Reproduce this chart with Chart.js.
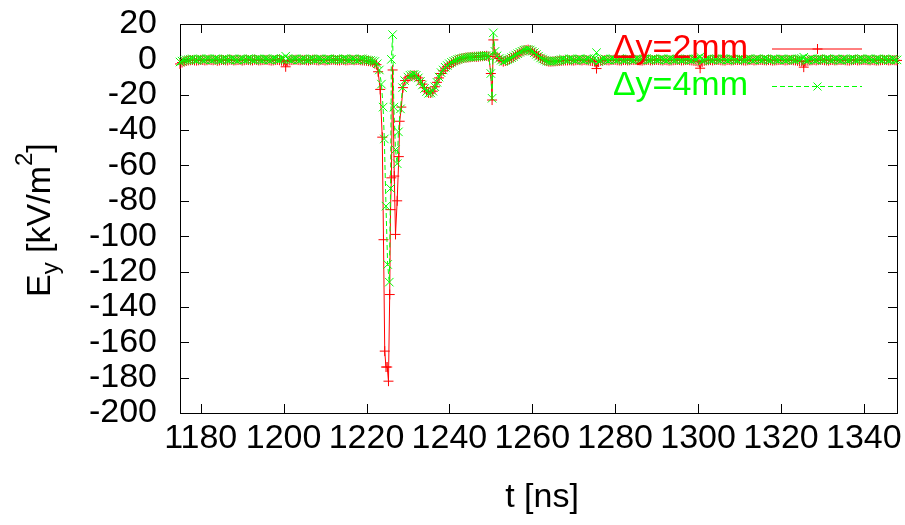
<!DOCTYPE html>
<html>
<head>
<meta charset="UTF-8">
<title>E_y vs t</title>
<script src="https://cdn.jsdelivr.net/npm/chart.js"></script>
<style>
  body { margin: 0; background: #fff; }
  canvas { display: block; }
</style>
</head>
<body>
<canvas id="chart" width="905" height="525"></canvas>
<script>
// --- data (t in ns, Ey in kV/m^2) ---
// flat parts are sampled every 0.5 ns
const preStart = 1175, postStart = 1265.5, sampleStep = 0.5;
const ePreRed = [
  -2.6,-1.8,-1.2,-0.9,-0.6,-0.5,-0.4,-0.6,-0.7,-0.5,
  -0.3,-0.4,-0.6,-0.5,-0.2,-0.4,-0.5,-0.3,-0.8,-0.6,
  -0.3,-0.4,-0.5,-0.6,-0.2,-0.3,-0.6,-0.5,-0.4,-0.3,
  -0.7,-0.5,-0.3,-0.4,-0.5,-0.6,-0.2,-0.4,-0.6,-0.5,
  -0.4,-0.3,-0.3,-0.5,-0.7,-0.6,-0.4,-0.3,-0.5,-0.7,
  -1.0,-4.2,-1.2,-0.6,-0.4,-0.3,-0.2,-0.4,-0.5,-0.3,
  -0.3,-0.5,-0.6,-0.4,-0.2,-0.3,-0.5,-0.6,-0.3,-0.4,
  -0.6,-0.5,-0.4,-0.3,-0.2,-0.4,-0.5,-0.6,-0.3,-0.4,
  -0.6,-0.5,-0.4,-0.3,-0.5,-0.4,-0.3,-0.5,-0.6,-0.7,
  -0.8,-1.0,-1.2,-1.6,-2.4];
const ePreGreen = [
  -1.5,-1.0,-0.6,-0.3,-0.2,0.1,0.3,-0.2,-0.4,0.2,
  0.2,-0.3,-0.3,0.4,0.4,-0.2,-0.2,0.3,0.1,-0.4,
  -0.4,0.2,0.3,-0.2,-0.2,0.4,0.2,-0.3,-0.5,0.1,
  0.3,-0.2,-0.1,0.4,0.2,-0.3,-0.4,0.2,0.3,-0.1,
  -0.2,0.3,0.1,-0.3,-0.3,0.4,0.4,-0.2,-0.2,0.3,
  0.5,1.8,0.3,-0.2,-0.2,0.3,0.4,-0.3,-0.3,0.2,
  0.2,-0.4,-0.4,0.3,0.3,-0.1,-0.1,0.2,0.2,-0.4,
  -0.4,0.3,0.3,-0.2,-0.2,0.1,0.1,-0.3,-0.3,0.4,
  0.4,-0.2,-0.2,0.2,0.2,-0.4,-0.4,0.3,0.3,-0.1,
  -0.3,-0.5,-0.6,-0.9,-1.2];

const tSpikeRed = [1222.4,1222.8,1223.3,1223.8,1224.1,1224.4,1224.7,1225.0,1225.3,1225.6,1225.8,
  1226.0,1226.3,1226.7,1227.0,1227.4,1227.8,1228.0,1228.4,1228.8,1229.3];
const eSpikeRed = [-3,-7,-17,-44,-102,-165,-174,-174,-182,-133,-85,-67,-6,-66,-99,-80,-55,-35,-27,-16,-12];
const tSpikeGreen = [1222.6,1223.1,1223.6,1224.0,1224.3,1224.7,1225.1,1225.5,1225.8,1226.0,1226.3,
  1226.6,1227.0,1227.4,1227.7,1228.2,1228.7,1229.2];
const eSpikeGreen = [-2.5,-6,-14,-27,-45,-83,-116,-126,-73,0,14,-27,-51,-59,-41,-28,-16,-12];

const tMid = [
  1230,1230.5,1231,1231.5,1232,1232.5,1233,1233.5,1234,1234.5,
  1235,1235.5,1236,1236.5,1237,1237.5,1238,1238.5,1239,1239.5,
  1240,1240.5,1241,1241.5,1242,1242.5,1243,1243.5,1244,1244.5,
  1245,1245.5,1246,1246.5,1247,1247.5,1248,1248.5,1249,1249.5,
  1250.0,1250.3,1250.6,
  1251,1251.5,1252,1252.5,1253,1253.5,1254,1254.5,1255,1255.5,
  1256,1256.5,1257,1257.5,1258,1258.5,1259,1259.5,1260,1260.5,
  1261,1261.5,1262,1262.5,1263,1263.5,1264,1264.5,1265];
const eMidRed = [
  -10.5,-9.6,-9.2,-9.0,-9.5,-10.5,-12,-14,-16,-18,
  -19,-19,-18,-15.5,-13,-10.5,-8,-6.5,-5,-4,
  -3,-2.2,-1.5,-0.8,-0.3,0.1,0.5,0.8,1,1.1,
  1.2,1.4,1.5,1.4,1.5,1.7,1.8,1.9,2,1.6,
  -8,-23,11,
  3,1.5,0.5,-0.6,-1.3,-0.9,-0.5,0.2,0.8,1.5,
  2.3,3.0,3.8,4.4,5,5.3,5.5,5.2,4.5,3.7,
  2.8,1.8,0.8,0.1,-0.5,-1.0,-1.3,-1.3,-1.2];
const eMidGreen = [
  -10,-9,-8.7,-8.5,-9,-10.5,-12.5,-14.5,-16.5,-18.2,
  -19.2,-19,-18,-15.5,-13,-10,-7.5,-6,-4.5,-3.5,
  -2.5,-1.7,-1,-0.5,0,0.3,0.6,0.9,1.1,1.2,
  1.3,1.5,1.6,1.6,1.7,1.8,1.9,2.0,2.1,1.8,
  -8,-22,15,
  4.5,2,0.5,-0.5,-1.2,-0.8,-0.3,0.3,1,1.7,
  2.5,3.2,4,4.6,5.2,5.5,5.6,5.3,4.6,3.8,
  2.8,1.8,0.8,0.2,-0.4,-0.9,-1.2,-1.2,-1.1];

const ePostRed = [
  -1.1,-1.0,-0.9,-0.8,-0.7,-0.6,-0.6,-0.5,-0.6,-0.7,
  -0.5,-0.4,-0.5,-0.6,-0.4,-0.5,-0.6,-0.8,-1.0,-1.3,
  -5.2,-1.5,-0.8,-0.6,-0.4,-0.5,-0.6,-0.4,-0.3,-0.3,
  -0.5,-0.6,-0.7,-0.4,-0.4,-0.6,-0.5,-0.3,-0.4,-0.3,
  -0.5,-0.6,-0.7,-0.5,-0.4,-0.3,-0.6,-0.5,-0.4,-0.3,
  -0.4,-0.5,-0.6,-0.4,-0.5,-0.7,-0.6,-0.5,-0.4,-0.3,
  -0.4,-0.6,-0.5,-0.4,-0.3,-0.5,-0.6,-0.8,-1.0,-1.3,
  -5.0,-1.4,-0.8,-0.6,-0.5,-0.4,-0.6,-0.4,-0.3,-0.3,
  -0.5,-0.6,-0.7,-0.4,-0.4,-0.6,-0.5,-0.3,-0.4,-0.3,
  -0.5,-0.6,-0.7,-0.5,-0.4,-0.3,-0.6,-0.5,-0.4,-0.3,
  -0.4,-0.5,-0.6,-0.4,-0.5,-0.7,-0.6,-0.5,-0.4,-0.3,
  -0.4,-0.6,-0.5,-0.4,-0.3,-0.5,-0.6,-0.8,-1.0,-1.2,
  -4.4,-1.3,-0.8,-0.6,-0.5,-0.4,-0.6,-0.4,-0.3,-0.3,
  -0.5,-0.6,-0.7,-0.4,-0.4,-0.6,-0.5,-0.3,-0.4,-0.3,
  -0.5,-0.6,-0.7,-0.5,-0.4,-0.3,-0.6,-0.5,-0.4,-0.3,
  -0.4,-0.5,-0.6,-0.4,-0.5,-0.7,-0.6,-0.5,-0.4,-0.3,
  -0.4,-0.6,-0.5,-0.4,-0.5,-0.6];
const ePostGreen = [
  -1.0,-0.8,-0.5,-0.2,0.2,-0.3,-0.4,0.3,0.2,-0.3,
  -0.4,0.2,0.3,-0.2,-0.5,0.1,0.4,-0.2,-0.5,0.4,
  3.8,-1.2,-0.6,0.2,0.3,-0.3,-0.4,0.2,0.3,-0.2,
  -0.3,0.4,0.2,-0.4,-0.3,0.3,0.2,-0.2,-0.5,0.2,
  0.1,-0.3,-0.2,0.3,0.4,-0.4,-0.3,0.2,0.3,-0.2,
  -0.2,0.4,0.2,-0.3,-0.5,0.2,0.3,-0.2,-0.3,0.3,
  0.1,-0.4,-0.2,0.2,0.3,-0.3,-0.4,0.2,0.2,0.6,
  1.5,-0.8,-0.4,0.2,0.3,-0.3,-0.4,0.2,0.3,-0.2,
  -0.3,0.4,0.2,-0.4,-0.3,0.3,0.2,-0.2,-0.5,0.2,
  0.1,-0.3,-0.2,0.3,0.4,-0.4,-0.3,0.2,0.3,-0.2,
  -0.2,0.4,0.2,-0.3,-0.5,0.2,0.3,-0.2,-0.3,0.3,
  0.1,-0.4,-0.2,0.2,0.3,-0.3,-0.4,0.2,0.2,0.5,
  1.2,-0.7,-0.4,0.2,0.3,-0.3,-0.4,0.2,0.3,-0.2,
  -0.3,0.4,0.2,-0.4,-0.3,0.3,0.2,-0.2,-0.5,0.2,
  0.1,-0.3,-0.2,0.3,0.4,-0.4,-0.3,0.2,0.3,-0.2,
  -0.2,0.4,0.2,-0.3,-0.5,0.2,0.3,-0.2,-0.3,0.3,
  0.1,-0.4,-0.2,0.2,-0.3,-0.3];

const xTicks = [1180,1200,1220,1240,1260,1280,1300,1320,1340];
const yTicks = [20,0,-20,-40,-60,-80,-100,-120,-140,-160,-180,-200];
const seriesNames = ['\u0394y=2mm', '\u0394y=4mm'];

const sampleTimes = (start, n) => Array.from({ length: n }, (_, i) => start + i * sampleStep);
const tPre = sampleTimes(preStart, ePreRed.length);
const tPost = sampleTimes(postStart, ePostRed.length);

function toPoints(ts, es) {
  return ts.map((t, i) => ({ x: t, y: es[i] }));
}
const redPts = toPoints([].concat(tPre, tSpikeRed, tMid, tPost), [].concat(ePreRed, eSpikeRed, eMidRed, ePostRed));
const greenPts = toPoints([].concat(tPre, tSpikeGreen, tMid, tPost), [].concat(ePreGreen, eSpikeGreen, eMidGreen, ePostGreen));

const FONT = "'Liberation Sans', Arial, sans-serif";
Chart.defaults.font.family = FONT;
Chart.defaults.color = '#000';

// gnuplot-like frame, inward ticks, titles and key
const frame = {
  id: 'frame',
  beforeDatasetsDraw(chart) {
    const { ctx, chartArea: a, scales: { x, y } } = chart;
    ctx.save();
    ctx.strokeStyle = '#000';
    ctx.lineWidth = 1;
    ctx.beginPath();
    xTicks.forEach(v => {
      const px = Math.round(x.getPixelForValue(v)) + 0.5;
      ctx.moveTo(px, a.bottom); ctx.lineTo(px, a.bottom - 9);
      ctx.moveTo(px, a.top); ctx.lineTo(px, a.top + 9);
    });
    yTicks.forEach(v => {
      const py = Math.round(y.getPixelForValue(v)) + 0.5;
      ctx.moveTo(a.left, py); ctx.lineTo(a.left + 9, py);
      ctx.moveTo(a.right, py); ctx.lineTo(a.right - 9, py);
    });
    ctx.stroke();
    ctx.strokeRect(Math.round(a.left) + 0.5, Math.round(a.top) + 0.5,
      Math.round(a.right - a.left), Math.round(a.bottom - a.top));
    ctx.restore();
  },
  afterDraw(chart) {
    const { ctx } = chart;
    ctx.save();
    ctx.fillStyle = '#000';
    // x title
    ctx.font = '34px ' + FONT;
    ctx.textAlign = 'center';
    ctx.textBaseline = 'middle';
    ctx.fillText('t [ns]', 542, 498);
    // y title with sub/superscript, rotated
    ctx.translate(50, 297);
    ctx.rotate(-Math.PI / 2);
    ctx.textAlign = 'left';
    ctx.textBaseline = 'alphabetic';
    let u = 0;
    const part = (txt, size, dy) => {
      ctx.font = size + 'px ' + FONT;
      ctx.fillText(txt, u, dy);
      u += ctx.measureText(txt).width;
    };
    part('E', 34, 0);
    part('y', 24, 8);
    part(' [kV/m', 34, 0);
    part('2', 24, -18);
    part(']', 34, 0);
    ctx.restore();

    // key
    const rows = [
      { name: seriesNames[0], color: 'rgb(255,0,0)', y: 49, off: 0, dash: [], mark: 'plus' },
      { name: seriesNames[1], color: 'rgb(0,255,0)', y: 86, off: 0.5, dash: [5, 3], mark: 'x' }
    ];
    rows.forEach(r => {
      ctx.save();
      ctx.font = '34px ' + FONT;
      ctx.textAlign = 'right';
      ctx.textBaseline = 'middle';
      ctx.fillStyle = r.color;
      ctx.fillText(r.name, 748, r.y);
      ctx.lineWidth = 1;
      ctx.setLineDash(r.dash);
      ctx.strokeStyle = r.color;
      ctx.beginPath();
      ctx.moveTo(772, r.y + r.off);
      ctx.lineTo(862, r.y + r.off);
      ctx.stroke();
      ctx.setLineDash([]);
      ctx.beginPath();
      const cx = 817.5, cy = r.y + r.off;
      if (r.mark === 'plus') {
        ctx.moveTo(cx - 5, cy); ctx.lineTo(cx + 5, cy);
        ctx.moveTo(cx, cy - 5); ctx.lineTo(cx, cy + 5);
      } else {
        ctx.moveTo(cx - 4, cy - 4); ctx.lineTo(cx + 4, cy + 4);
        ctx.moveTo(cx - 4, cy + 4); ctx.lineTo(cx + 4, cy - 4);
      }
      ctx.stroke();
      ctx.restore();
    });
  }
};

new Chart(document.getElementById('chart'), {
  type: 'scatter',
  data: {
    datasets: [
      {
        label: seriesNames[0],
        data: redPts,
        showLine: true,
        borderColor: '#ff0000',
        borderWidth: 1,
        pointStyle: 'cross',
        pointRadius: 5,
        pointBorderColor: '#ff0000',
        pointBorderWidth: 1,
        pointBackgroundColor: '#ff0000',
        clip: false,
        order: 1
      },
      {
        label: seriesNames[1],
        data: greenPts,
        showLine: true,
        borderColor: '#00ff00',
        borderWidth: 1,
        borderDash: [5, 3],
        pointStyle: 'crossRot',
        pointRadius: 6,
        pointBorderColor: '#00ff00',
        pointBorderWidth: 1,
        pointBackgroundColor: '#00ff00',
        clip: false,
        order: 0
      }
    ]
  },
  options: {
    responsive: false,
    animation: false,
    layout: { padding: { left: 0, top: 24, right: 8, bottom: 0 } },
    plugins: { legend: { display: false }, tooltip: { enabled: false } },
    scales: {
      x: {
        type: 'linear',
        min: 1175,
        max: 1348,
        grid: { display: false, drawTicks: false },
        border: { display: false },
        afterBuildTicks: s => { s.ticks = xTicks.map(v => ({ value: v })); },
        afterFit: s => { s.height = 112; s.paddingLeft = 0; s.paddingRight = 0; },
        ticks: {
          font: { size: 34 },
          color: '#000',
          padding: 5,
          maxRotation: 0,
          autoSkip: false,
          callback: v => String(v)
        }
      },
      y: {
        min: -200,
        max: 20,
        grid: { display: false, drawTicks: false },
        border: { display: false },
        afterBuildTicks: s => { s.ticks = yTicks.map(v => ({ value: v })); },
        afterFit: s => { s.width = 180; s.paddingTop = 0; s.paddingBottom = 0; },
        ticks: {
          font: { size: 34 },
          color: '#000',
          padding: 23,
          autoSkip: false,
          callback: v => String(v)
        }
      }
    }
  },
  plugins: [frame]
});
</script>
</body>
</html>
